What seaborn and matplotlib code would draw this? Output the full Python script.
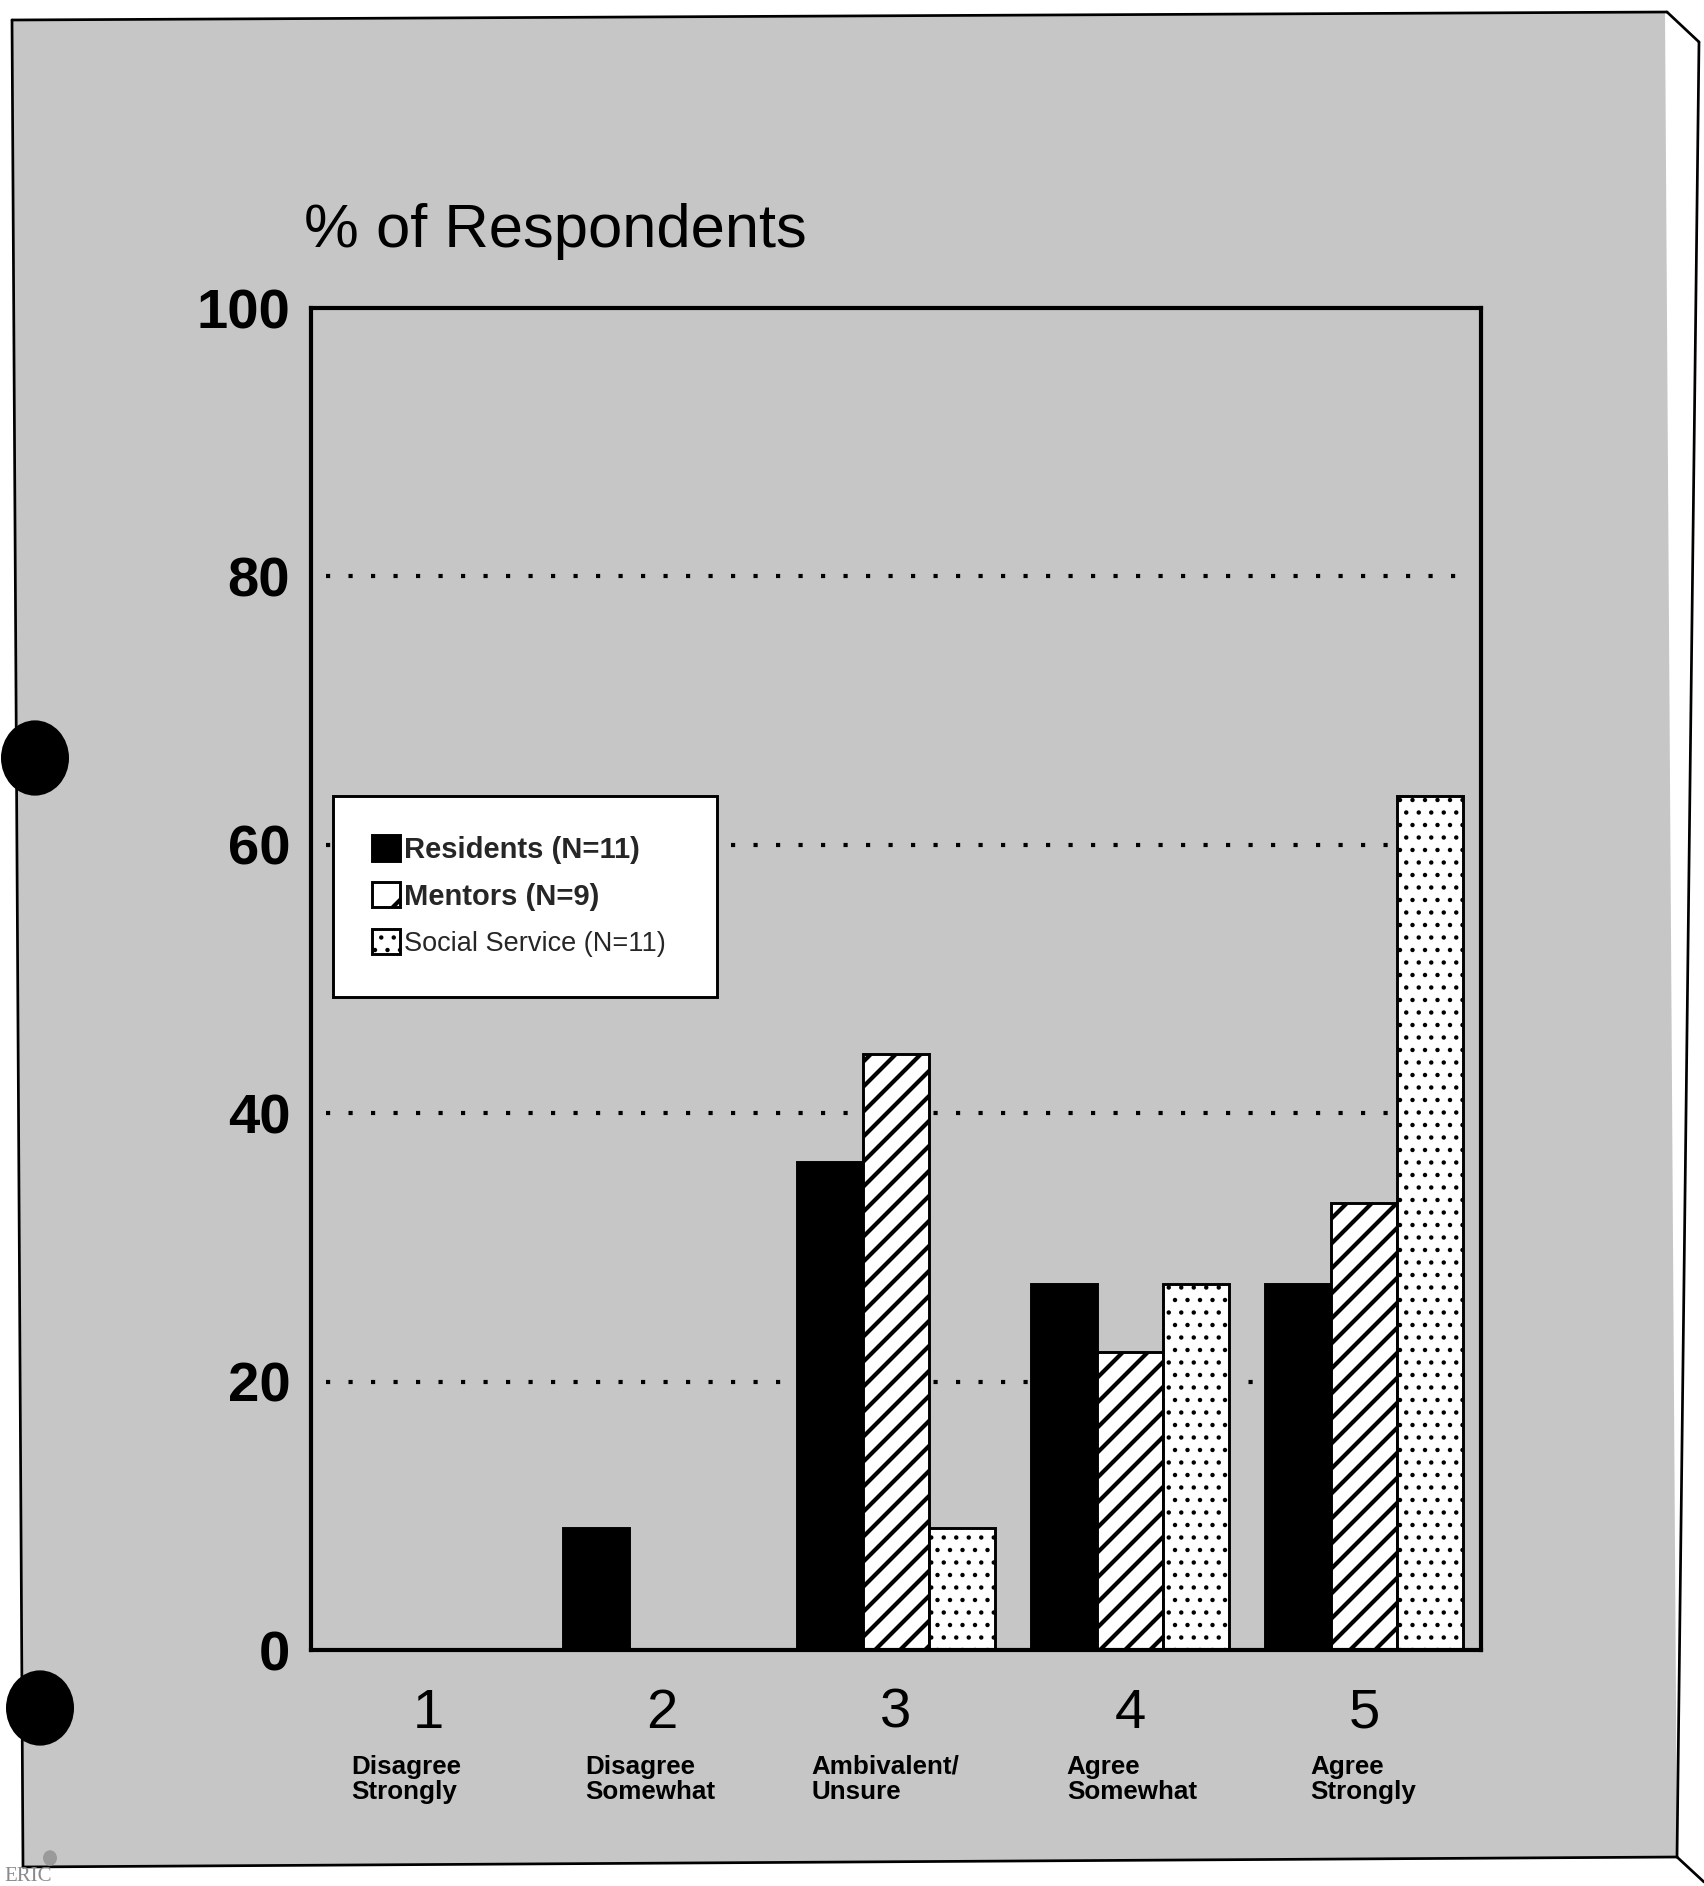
import matplotlib
matplotlib.use("Agg")
import matplotlib.pyplot as plt
import matplotlib.transforms as mtransforms
from matplotlib.patches import Polygon, Circle, Patch
from matplotlib.lines import Line2D
import pandas as pd
import seaborn as sns

# ---- data -------------------------------------------------------------
categories = ["1", "2", "3", "4", "5"]
category_notes = ["Disagree\nStrongly", "Disagree\nSomewhat", "Ambivalent/\nUnsure",
                  "Agree\nSomewhat", "Agree\nStrongly"]
groups = ["Residents (N=11)", "Mentors (N=9)", "Social Service (N=11)"]
residents = [0.0, 9.1, 36.4, 27.3, 27.3]
mentors = [0.0, 0.0, 44.4, 22.2, 33.3]
social_service = [0.0, 0.0, 9.1, 27.3, 63.6]
y_ticks = [0, 20, 40, 60, 80, 100]
grid_levels = [20, 40, 60, 80]
y_title = "% of Respondents"

# ---- styling ----------------------------------------------------------
sns.set_theme(style="white")
plt.rcParams["font.family"] = ["Liberation Sans", "DejaVu Sans"]
plt.rcParams["hatch.linewidth"] = 2.0
plt.rcParams["hatch.color"] = "black"

W, H, DPI = 1704, 1886, 150
PAGE = "#c6c6c6"
fills = {groups[0]: "black", groups[1]: "white", groups[2]: "white"}
hatches = {groups[0]: None, groups[1]: "//", groups[2]: ".."}
key_hatches = {groups[0]: None, groups[1]: "/", groups[2]: ".."}
note_offsets = [-0.33, -0.33, -0.36, -0.27, -0.23]


def fpos(x, y):
    """Pixel position (from top-left) to figure fraction."""
    return x / W, 1 - y / H


def thin_dots(patch):
    if hasattr(patch, "set_hatch_linewidth"):
        patch.set_hatch_linewidth(0.9)


fig = plt.figure(figsize=(W / DPI, H / DPI), dpi=DPI, facecolor="white")

# scanned page: grey screen inside a ruled frame
page = Polygon([fpos(12, 20), fpos(1665, 12), fpos(1677, 1858), fpos(23, 1867)],
               closed=True, transform=fig.transFigure, facecolor=PAGE,
               edgecolor="none", zorder=-5)
fig.patches.append(page)
frame_lines = [
    [(12, 20), (1667, 12)],
    [(1667, 12), (1699, 42)],
    [(1699, 42), (1677, 1857)],
    [(1677, 1857), (1704, 1882)],
    [(1677, 1857), (23, 1867)],
    [(23, 1867), (12, 20)],
]
for (x0, y0), (x1, y1) in frame_lines:
    a, b = fpos(x0, y0), fpos(x1, y1)
    fig.lines.append(Line2D([a[0], b[0]], [a[1], b[1]], transform=fig.transFigure,
                            color="black", lw=1.3, zorder=2))
for cx, cy in [(35, 758), (40, 1708)]:
    fig.patches.append(Circle(fpos(cx, cy), 34 / W, transform=fig.transFigure,
                              facecolor="black", edgecolor="none", zorder=3))
# archive mark at the bottom-left corner
fig.patches.append(Circle(fpos(50, 1858), 7 / W, transform=fig.transFigure,
                          facecolor="#9a9a9a", edgecolor="none", zorder=3))
fig.text(*fpos(4, 1867), "ERIC", fontsize=10, color="#8a8a8a",
         family=["Liberation Serif", "DejaVu Serif"], va="top", ha="left")

# ---- chart ------------------------------------------------------------
ax_left, ax_right, ax_top, ax_bottom = 311, 1481, 308, 1650
ax = fig.add_axes([ax_left / W, 1 - ax_bottom / H,
                   (ax_right - ax_left) / W, (ax_bottom - ax_top) / H])
ax.set_facecolor("none")

df = pd.DataFrame({
    "category": categories * 3,
    "group": [g for g in groups for _ in categories],
    "percent": residents + mentors + social_service,
})

sns.barplot(data=df, x="category", y="percent", hue="group", order=categories,
            hue_order=groups, palette=fills, saturation=1, width=0.85, gap=0,
            errorbar=None, edgecolor="black", linewidth=1.4, legend=False,
            zorder=3, ax=ax)

for container, grp in zip(ax.containers, groups):
    for bar in container:
        if hatches[grp]:
            bar.set_hatch(hatches[grp])
            if grp == groups[2]:
                thin_dots(bar)

for level in grid_levels:
    ax.axhline(level, xmin=0.013, xmax=0.985, color="black", lw=2.0,
               linestyle=(0, (1, 4.4)), zorder=1)

ax.set_xlim(-0.5, 4.5)
ax.set_ylim(0, 100)
ax.set_yticks(y_ticks)
ax.set_yticklabels([str(t) for t in y_ticks], fontweight="bold")
ax.set_xticks(range(len(categories)))
ax.set_xticklabels(categories)
ax.tick_params(axis="y", length=0, labelsize=27, pad=10, colors="black")
ax.tick_params(axis="x", length=0, labelsize=27, pad=18, colors="black")
ax.set_xlabel("")
ax.set_ylabel("")
for side in ["left", "bottom", "top", "right"]:
    ax.spines[side].set_visible(True)
    ax.spines[side].set_color("black")
    ax.spines[side].set_linewidth(2.0)
    ax.spines[side].set_zorder(4)

note_tr = mtransforms.blended_transform_factory(ax.transData, ax.transAxes)
for i, note in enumerate(category_notes):
    ax.text(i + note_offsets[i], -0.078, note, transform=note_tr, ha="left",
            va="top", fontsize=12.5, fontweight="bold", linespacing=1.05,
            color="black")

fig.text(*fpos(304, 247), y_title, fontsize=29.5, va="baseline", ha="left",
         color="black")

# ---- legend -----------------------------------------------------------
handles = [Patch(facecolor=fills[grp], edgecolor="black", linewidth=1.4,
                 hatch=key_hatches[grp]) for grp in groups]
box_x0 = (333 - ax_left) / (ax_right - ax_left)
box_w = (717 - 333) / (ax_right - ax_left)
box_top = 1 - (796 - ax_top) / (ax_bottom - ax_top)
leg = ax.legend(handles=handles, labels=groups, loc="upper left",
                bbox_to_anchor=(box_x0, box_top - 0.2, box_w, 0.2), mode="expand",
                borderaxespad=0, fontsize=14, frameon=True, fancybox=False,
                framealpha=1, facecolor="white", edgecolor="black",
                handlelength=0.95, handleheight=0.95, handletextpad=0.15,
                labelspacing=0.62, borderpad=1.35)
leg.get_frame().set_linewidth(1.4)
leg.set_zorder(5)
for txt, key, grp in zip(leg.get_texts(), leg.get_patches(), groups):
    txt.set_fontweight("bold" if grp != groups[2] else "normal")
    if grp == groups[2]:
        txt.set_fontsize(13)
        thin_dots(key)

fig.savefig("out.png", dpi=DPI, facecolor="white")
